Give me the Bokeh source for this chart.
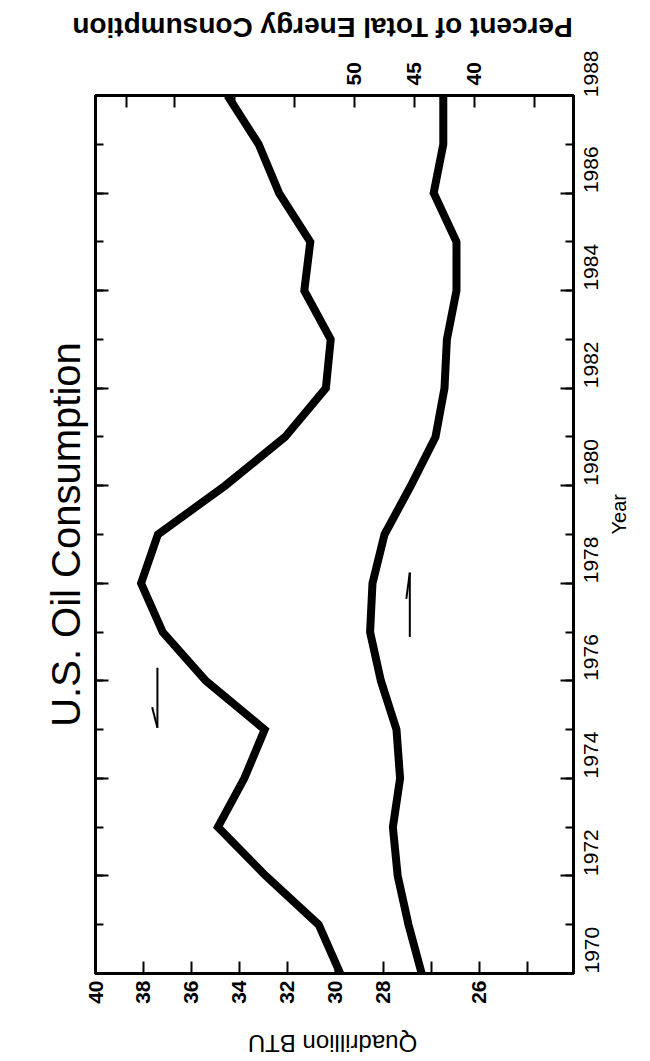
import math

from bokeh.core.properties import value
from bokeh.embed import file_html
from bokeh.layouts import column
from bokeh.models import FixedTicker, LinearAxis, Range1d
from bokeh.plotting import figure
from bokeh.resources import INLINE

# U.S. oil consumption, 1970-1988 (drawn turned on its side: years run up the page)
years = list(range(1970, 1989))
oil_quads = [29.8, 30.7, 32.9, 34.9, 33.8, 32.95, 35.4, 37.2, 38.1, 37.4,
             34.6, 32.1, 30.4, 30.2, 31.3, 31.05, 32.35, 33.2, 34.5]
oil_share_pct = [44.4, 45.5, 46.4, 46.8, 46.2, 46.5, 47.8, 48.7, 48.5, 47.5,
                 45.3, 43.25, 42.5, 42.3, 41.5, 41.5, 43.4, 42.6, 42.6]

btu_ticks = [40, 38, 36, 34, 32, 30, 28, 26, 24, 22]
btu_tick_text = {26: "", 24: "26", 22: ""}
pct_ticks = [69, 65, 60, 55, 50, 45, 40, 35]
pct_labelled = [50, 45, 40]
year_major = list(range(1970, 1989, 2))

# pointer arrows: shaft (x, y0, y1) and barb end, in each curve's own units
btu_arrow = dict(x=37.42, y0=1975.04, y1=1976.27, barb_x=37.64, barb_y=1975.46)
pct_arrow = dict(x=45.39, y0=1976.9, y1=1978.22, barb_x=45.68, barb_y=1977.68)

FONT = "Liberation Sans"
W = 650


def caption_strip(text, height, x, y, size, style):
    """A thin borderless strip holding one upside-down caption."""
    s = figure(width=W, height=height, x_range=Range1d(0, W), y_range=Range1d(0, height),
               x_axis_location=None, y_axis_location=None, min_border=0,
               output_backend="svg", toolbar_location=None)
    try:
        s.frame_align = False
    except AttributeError:
        pass
    s.outline_line_color = None
    s.background_fill_color = "white"
    s.border_fill_color = "white"
    s.grid.visible = False
    s.text(x=[x], y=[y], text=[text], angle=math.pi,
           text_font=value(FONT), text_font_size=value(size), text_font_style=style,
           text_color="black", text_align="center", text_baseline="middle")
    return s


top_strip = caption_strip("Percent of Total Energy Consumption", 50, 322, 23, "28px", "bold")
bottom_strip = caption_strip("Quadrillion BTU", 50, 332, 18, "24px", "normal")

p = figure(
    width=W, height=961,
    x_range=Range1d(40, 20.083), y_range=Range1d(1970, 1988),
    x_axis_location=None, y_axis_location=None,
    output_backend="svg", toolbar_location=None,
    min_border_left=95, min_border_right=77, min_border_top=45, min_border_bottom=38,
)
p.extra_x_ranges = {"pct": Range1d(71.58, 31.75)}
p.background_fill_color = "white"
p.border_fill_color = "white"
p.outline_line_color = "black"
p.outline_line_width = 3
p.grid.visible = False


def style_axis(ax, size, bold, tick_in, minor_in=0, standoff=8):
    ax.axis_line_color = "black"
    ax.axis_line_width = 3
    ax.major_tick_in = tick_in
    ax.major_tick_out = 0
    ax.major_tick_line_width = 2
    ax.major_tick_line_color = "black"
    ax.minor_tick_in = minor_in
    ax.minor_tick_out = 0
    ax.minor_tick_line_width = 2
    ax.minor_tick_line_color = "black" if minor_in else None
    ax.major_label_text_font = FONT
    ax.major_label_text_font_size = size
    ax.major_label_text_font_style = "bold" if bold else "normal"
    ax.major_label_text_color = "black"
    ax.major_label_orientation = math.pi / 2
    ax.major_label_standoff = standoff
    ax.axis_label_text_font = FONT
    ax.axis_label_text_color = "black"
    ax.axis_label_text_font_style = "normal"


# quadrillion BTU scale
btu_axis = LinearAxis(ticker=FixedTicker(ticks=btu_ticks),
                      major_label_overrides=btu_tick_text)
style_axis(btu_axis, "21px", True, 12, standoff=7)
p.add_layout(btu_axis, "below")

# percent-of-total scale
pct_axis = LinearAxis(x_range_name="pct", ticker=FixedTicker(ticks=pct_ticks),
                      major_label_overrides={t: "" for t in pct_ticks if t not in pct_labelled})
style_axis(pct_axis, "21px", True, 12, standoff=10)
p.add_layout(pct_axis, "above")

# year scale, labelled on the right
year_ticker = FixedTicker(ticks=year_major, minor_ticks=years)
year_axis = LinearAxis(ticker=year_ticker, axis_label="Year")
style_axis(year_axis, "21px", False, 13, minor_in=8, standoff=18)
year_axis.axis_label_text_font_size = "20px"
year_axis.axis_label_standoff = 10
year_axis.axis_label_orientation = math.pi / 2
p.add_layout(year_axis, "right")

# mirrored year ticks on the left, carrying the chart title
mirror_axis = LinearAxis(ticker=year_ticker, axis_label="U.S. Oil Consumption",
                         major_label_overrides={y: "" for y in year_major})
style_axis(mirror_axis, "21px", False, 13, minor_in=8, standoff=4)
mirror_axis.axis_label_text_font_size = "40px"
mirror_axis.axis_label_standoff = 8
p.add_layout(mirror_axis, "left")

# the two curves
p.line(oil_quads, years, line_width=8, line_color="black", line_join="miter")
p.line(oil_share_pct, years, line_width=8, line_color="black", line_join="miter",
       x_range_name="pct")

# pointer arrows
p.segment(x0=[btu_arrow["x"], btu_arrow["x"]], y0=[btu_arrow["y0"], btu_arrow["y0"]],
          x1=[btu_arrow["x"], btu_arrow["barb_x"]], y1=[btu_arrow["y1"], btu_arrow["barb_y"]],
          line_width=2, line_color="black")
p.segment(x0=[pct_arrow["x"], pct_arrow["x"]], y0=[pct_arrow["y1"], pct_arrow["y1"]],
          x1=[pct_arrow["x"], pct_arrow["barb_x"]], y1=[pct_arrow["y0"], pct_arrow["barb_y"]],
          line_width=2, line_color="black", x_range_name="pct")

page = column(top_strip, p, bottom_strip, spacing=0)
open("out.html", "w").write(file_html(page, INLINE))
